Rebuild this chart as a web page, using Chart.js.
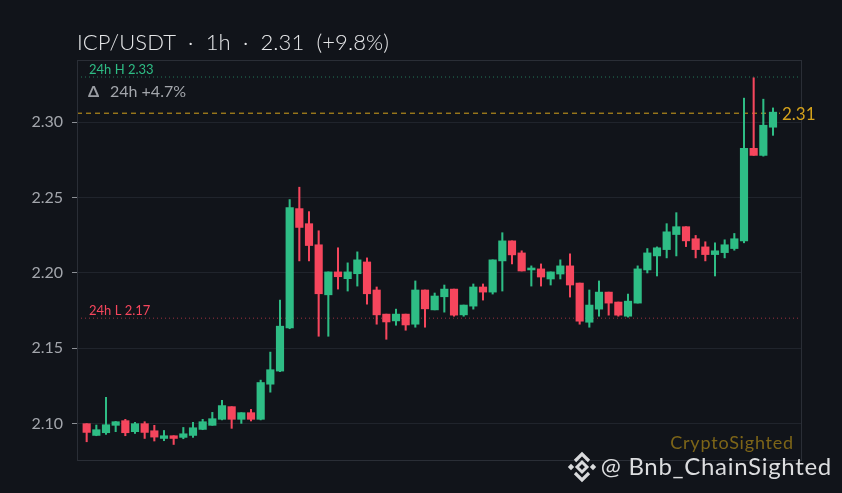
<!DOCTYPE html>
<html>
<head>
<meta charset="utf-8">
<script src="https://cdn.jsdelivr.net/npm/chart.js@4.4.1/dist/chart.umd.min.js"></script>
<style>
  html, body { margin: 0; padding: 0; background: #11141a; }
  #wrap { width: 842px; height: 493px; position: relative; }
</style>
</head>
<body>
<div id="wrap"><canvas id="c" width="842" height="493"></canvas></div>
<script>
// ---- data ----
const opens  = [2.1000,2.0922,2.0940,2.0989,2.1020,2.0947,2.1000,2.0953,2.0902,2.0920,
                2.0909,2.0922,2.0962,2.0989,2.1029,2.1113,2.1029,2.1073,2.1029,2.1262,
                2.1349,2.1635,2.2427,2.2327,2.2187,2.1855,2.2007,2.1962,2.1995,2.2073,
                2.1887,2.1727,2.1682,2.1727,2.1660,2.1887,2.1755,2.1842,2.1893,2.1722,
                2.1780,2.1907,2.1873,2.2080,2.2213,2.2133,2.2020,2.2027,2.1960,2.1993,
                2.2047,2.1933,2.1673,2.1760,2.1873,2.1807,2.1713,2.1800,2.2020,2.2113,
                2.2155,2.2255,2.2307,2.2227,2.2173,2.2122,2.2135,2.2162,2.2213,2.2827,
                2.2780,2.2967];
const highs  = [2.1000,2.0991,2.1175,2.1015,2.1029,2.1009,2.1013,2.0989,2.0955,2.0920,
                2.0975,2.1009,2.1029,2.1075,2.1155,2.1113,2.1073,2.1095,2.1289,2.1475,
                2.1820,2.2487,2.2569,2.2407,2.2280,2.2007,2.2167,2.2067,2.2140,2.2100,
                2.1907,2.1727,2.1760,2.1727,2.1947,2.1887,2.1867,2.1920,2.1893,2.1787,
                2.1927,2.1927,2.2087,2.2267,2.2213,2.2147,2.2047,2.2060,2.2007,2.2087,
                2.2127,2.1933,2.1887,2.1947,2.1873,2.1807,2.1860,2.2047,2.2162,2.2173,
                2.2327,2.2400,2.2307,2.2249,2.2207,2.2200,2.2220,2.2262,2.3160,2.3295,
                2.3153,2.3095];
const lows   = [2.0880,2.0920,2.0929,2.0947,2.0920,2.0935,2.0902,2.0885,2.0887,2.0862,
                2.0900,2.0909,2.0960,2.0989,2.1025,2.0969,2.1002,2.1018,2.1025,2.1209,
                2.1345,2.1630,2.2080,2.2080,2.1580,2.1580,2.1893,2.1880,2.1913,2.1793,
                2.1660,2.1560,2.1653,2.1620,2.1640,2.1640,2.1755,2.1740,2.1713,2.1713,
                2.1760,2.1820,2.1860,2.1880,2.2060,2.2013,2.1913,2.1913,2.1920,2.1960,
                2.1840,2.1660,2.1640,2.1713,2.1720,2.1713,2.1707,2.1800,2.2000,2.1980,
                2.2100,2.2113,2.2175,2.2100,2.2080,2.1980,2.2100,2.2151,2.2200,2.2780,
                2.2775,2.2913];
const closes = [2.0942,2.0960,2.0993,2.1013,2.0940,2.1000,2.0942,2.0911,2.0920,2.0902,
                2.0933,2.0973,2.1013,2.1033,2.1120,2.1029,2.1073,2.1029,2.1273,2.1358,
                2.1647,2.2433,2.2302,2.2182,2.1862,2.2007,2.1975,2.2007,2.2087,2.1862,
                2.1722,2.1675,2.1727,2.1655,2.1887,2.1762,2.1847,2.1893,2.1720,2.1787,
                2.1907,2.1873,2.2087,2.2213,2.2120,2.2013,2.2033,2.1973,2.2007,2.2047,
                2.1920,2.1680,2.1787,2.1873,2.1800,2.1720,2.1813,2.2027,2.2133,2.2167,
                2.2273,2.2307,2.2213,2.2155,2.2122,2.2147,2.2187,2.2227,2.2827,2.2780,
                2.2980,2.3067];
const yTicks = [2.10, 2.15, 2.20, 2.25, 2.30];
const high24 = 2.33;
const low24 = 2.17;
const lastPrice = 2.306;
const titleText = 'ICP/USDT  ·  1h  ·  2.31  (+9.8%)';
const highLabel = '24h H 2.33';
const lowLabel = '24h L 2.17';
const changeLabel = '24h +4.7%';
const lastLabel = '2.31';
const brandLabel = 'CryptoSighted';
const handleLabel = '@ Bnb_ChainSighted';

const GREEN = '#2ebd85';
const RED = '#f6465d';
const GOLD = '#d4a21c';
const BG = '#11141a';

const idx = opens.map((_, i) => i);
const colors = idx.map(i => closes[i] >= opens[i] ? GREEN : RED);
const bodies = idx.map(i => ({ x: i, y: [opens[i], closes[i]] }));
const wicks = idx.map(i => ({ x: i, y: [lows[i], highs[i]] }));
const hline = (v) => [{ x: -1, y: v }, { x: 74, y: v }];

const bgPlugin = {
  id: 'bg',
  beforeDraw(chart) {
    const ctx = chart.ctx;
    ctx.save();
    ctx.fillStyle = BG;
    ctx.fillRect(0, 0, chart.width, chart.height);
    ctx.restore();
  }
};

function drawLogo(ctx, cx, cy) {
  ctx.save();
  ctx.fillStyle = '#d9dadc';
  ctx.strokeStyle = '#d9dadc';
  const dia = (x, y, r) => {
    ctx.beginPath();
    ctx.moveTo(x, y - r); ctx.lineTo(x + r, y); ctx.lineTo(x, y + r); ctx.lineTo(x - r, y);
    ctx.closePath(); ctx.fill();
  };
  dia(cx - 11, cy, 3.2);
  dia(cx + 11, cy, 3.2);
  ctx.lineWidth = 3;
  ctx.beginPath();
  ctx.moveTo(cx, cy - 5); ctx.lineTo(cx + 5, cy); ctx.lineTo(cx, cy + 5); ctx.lineTo(cx - 5, cy);
  ctx.closePath(); ctx.stroke();
  ctx.lineWidth = 3.2;
  ctx.beginPath();
  ctx.moveTo(cx - 7, cy - 6); ctx.lineTo(cx, cy - 13); ctx.lineTo(cx + 7, cy - 6);
  ctx.stroke();
  ctx.beginPath();
  ctx.moveTo(cx - 7, cy + 6); ctx.lineTo(cx, cy + 13); ctx.lineTo(cx + 7, cy + 6);
  ctx.stroke();
  ctx.restore();
}

const annoPlugin = {
  id: 'anno',
  afterDraw(chart) {
    const ctx = chart.ctx;
    const a = chart.chartArea;
    const y = chart.scales.y;
    ctx.save();
    ctx.strokeStyle = '#2a2e36';
    ctx.lineWidth = 1;
    ctx.strokeRect(a.left + 0.5, a.top + 0.5, a.right - a.left - 1, a.bottom - a.top);
    // title
    ctx.fillStyle = '#e6e7e9';
    ctx.font = '300 22px Lato';
    ctx.textBaseline = 'alphabetic';
    ctx.textAlign = 'left';
    ctx.letterSpacing = '0.1px';
    ctx.fillText(titleText, a.left, 50);
    ctx.letterSpacing = '0px';
    // 24h H label
    ctx.font = '13px Lato';
    ctx.fillStyle = GREEN;
    ctx.fillText(highLabel, a.left + 12, y.getPixelForValue(high24) - 3);
    // change label
    ctx.font = 'bold 16px Lato';
    ctx.fillStyle = '#9a9da3';
    ctx.fillText('\u0394', a.left + 11, 97);
    ctx.font = '16px Lato';
    ctx.fillStyle = '#a3a6ac';
    ctx.fillText(changeLabel, a.left + 33, 97);
    // 24h L label
    ctx.font = '13px Lato';
    ctx.fillStyle = RED;
    ctx.fillText(lowLabel, a.left + 12, y.getPixelForValue(low24) - 3);
    // last price label
    ctx.font = '17px Lato';
    const ly = y.getPixelForValue(lastPrice);
    const lw = ctx.measureText(lastLabel).width;
    ctx.fillStyle = BG;
    ctx.fillRect(780, ly - 3, lw + 4, 6);
    ctx.fillStyle = GOLD;
    ctx.textBaseline = 'middle';
    ctx.fillText(lastLabel, 782, ly + 1);
    // watermarks
    ctx.textBaseline = 'alphabetic';
    ctx.textAlign = 'right';
    ctx.font = '18px Lato';
    ctx.letterSpacing = '0.8px';
    ctx.fillStyle = '#7d6518';
    ctx.fillText(brandLabel, 794, 449);
    ctx.font = '24px Lato';
    ctx.letterSpacing = '0.7px';
    ctx.fillStyle = '#dcdddf';
    ctx.fillText(handleLabel, 832, 475);
    ctx.letterSpacing = '0px';
    ctx.restore();
    drawLogo(ctx, 582, 467);
  }
};

new Chart(document.getElementById('c'), {
  type: 'bar',
  data: {
    datasets: [
      {
        label: 'body', data: bodies, backgroundColor: colors, borderWidth: 0,
        barThickness: 7.5, grouped: false, minBarLength: 1.5
      },
      {
        label: 'wick', data: wicks, backgroundColor: colors, borderWidth: 0,
        barThickness: 1.4, grouped: false
      },
      {
        type: 'line', label: 'H', data: hline(high24), borderColor: 'rgba(46,189,133,0.6)',
        borderWidth: 1, borderDash: [1, 3], pointRadius: 0, fill: false
      },
      {
        type: 'line', label: 'L', data: hline(low24), borderColor: 'rgba(246,70,93,0.6)',
        borderWidth: 1, borderDash: [1, 3], pointRadius: 0, fill: false
      },
      {
        type: 'line', label: 'last', data: hline(lastPrice), borderColor: GOLD,
        borderWidth: 1, borderDash: [5, 4], pointRadius: 0, fill: false
      }
    ]
  },
  options: {
    responsive: false,
    animation: false,
    devicePixelRatio: 1,
    layout: { padding: { left: 0, right: 40, top: 60, bottom: 33 } },
    plugins: { legend: { display: false }, tooltip: { enabled: false }, title: { display: false } },
    scales: {
      x: { type: 'linear', min: -1, max: 74, display: false, offset: false, grid: { display: false } },
      y: {
        min: 2.0759, max: 2.3413,
        afterBuildTicks: (s) => { s.ticks = yTicks.map(v => ({ value: v })); },
        afterFit: (s) => { s.width = 77; },
        ticks: {
          color: '#a3a6ac', font: { size: 16, family: 'Lato' }, padding: 9,
          callback: (v) => Number(v).toFixed(2)
        },
        grid: { color: '#20242c', tickColor: '#8d9096', tickLength: 5, lineWidth: 1 },
        border: { display: true, color: '#2a2e36' }
      }
    }
  },
  plugins: [bgPlugin, annoPlugin]
});
</script>
</body>
</html>
